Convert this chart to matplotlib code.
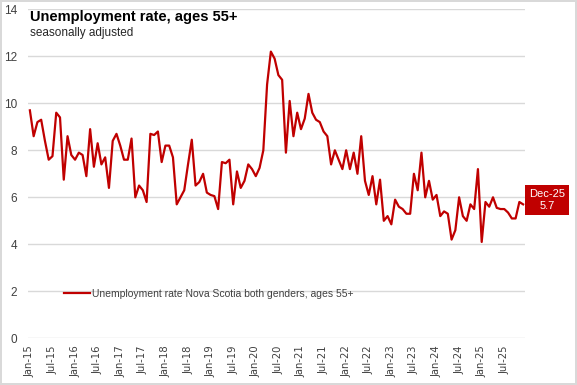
import matplotlib
matplotlib.use("Agg")
import matplotlib.pyplot as plt
import numpy as np
import pandas as pd
from matplotlib import font_manager

plt.rcParams["font.family"] = ["Liberation Sans", "DejaVu Sans"]

# monthly values, Jan-15 .. Dec-25
rate_2015 = [9.7, 8.6, 9.2, 9.3, 8.4, 7.6, 7.75, 9.6, 9.4, 6.75, 8.6, 7.8]
rate_2016 = [7.6, 7.9, 7.8, 6.9, 8.9, 7.3, 8.3, 7.4, 7.7, 6.4, 8.4, 8.7]
rate_2017 = [8.2, 7.6, 7.6, 8.5, 6.0, 6.5, 6.3, 5.8, 8.7, 8.65, 8.8, 7.5]
rate_2018 = [8.2, 8.2, 7.7, 5.7, 6.0, 6.3, 7.4, 8.45, 6.5, 6.65, 7.0, 6.2]
rate_2019 = [6.1, 6.05, 5.5, 7.5, 7.45, 7.6, 5.7, 7.1, 6.4, 6.7, 7.4, 7.2]
rate_2020 = [6.9, 7.25, 8.0, 10.8, 12.2, 11.9, 11.2, 11.0, 7.9, 10.1, 8.6, 9.6]
rate_2021 = [8.9, 9.35, 10.4, 9.6, 9.3, 9.2, 8.8, 8.6, 7.4, 8.0, 7.6, 7.2]
rate_2022 = [8.0, 7.2, 7.9, 7.0, 8.6, 6.7, 6.1, 6.9, 5.7, 6.75, 5.0, 5.2]
rate_2023 = [4.85, 5.9, 5.6, 5.5, 5.3, 5.3, 7.0, 6.3, 7.9, 6.0, 6.7, 5.9]
rate_2024 = [6.1, 5.2, 5.4, 5.3, 4.2, 4.6, 6.0, 5.2, 5.0, 5.7, 5.5, 7.2]
rate_2025 = [4.1, 5.8, 5.6, 6.0, 5.55, 5.5, 5.5, 5.35, 5.1, 5.1, 5.8, 5.7]

rates = (rate_2015 + rate_2016 + rate_2017 + rate_2018 + rate_2019 + rate_2020
         + rate_2021 + rate_2022 + rate_2023 + rate_2024 + rate_2025)
months = pd.date_range("2015-01-01", periods=len(rates), freq="MS")
month_labels = [m.strftime("%b-%y") for m in months]

series_name = "Unemployment rate Nova Scotia both genders, ages 55+"
RED = "#C00000"
GRID = "#D9D9D9"
TXT = "#404040"

# narrow face for the rotated month labels, if one is around
narrow = font_manager.FontProperties(family="DejaVu Sans", stretch="condensed", size=8)
if "Condensed" not in font_manager.findfont(narrow, fallback_to_default=False):
    narrow = font_manager.FontProperties(family="Liberation Sans", size=7)

fig = plt.figure(figsize=(5.77, 3.85), dpi=100)
fig.patch.set_edgecolor(GRID)
fig.patch.set_linewidth(1.5)
ax = fig.add_axes([28 / 577, 1 - 338.3 / 385, 497 / 577, 329 / 385])

x = np.arange(len(rates))
ax.plot(x, rates, color=RED, lw=1.6, label=series_name, solid_joinstyle="round")

ax.set_xlim(-0.5, len(rates) - 0.5)
ax.set_ylim(0, 14)
ax.set_yticks(np.arange(0, 15, 2))
ax.yaxis.grid(True, color=GRID, lw=1)
ax.set_axisbelow(True)
for s in ax.spines.values():
    s.set_visible(False)
ax.tick_params(axis="both", length=0, colors=TXT)
ax.tick_params(axis="y", pad=8, labelsize=8.5)

tick_pos = x[::6]
ax.set_xticks(tick_pos)
ax.set_xticklabels([month_labels[i] for i in tick_pos], rotation=90,
                   fontproperties=narrow)
ax.tick_params(axis="x", pad=5)

fig.text(30 / 577, 1 - 17 / 385, "Unemployment rate, ages 55+", fontsize=10.5,
         fontweight="bold", va="center", ha="left", color="black")
fig.text(30 / 577, 1 - 33 / 385, "seasonally adjusted", fontsize=8.5,
         va="center", ha="left", color="#262626")

leg = ax.legend(loc="upper left", bbox_to_anchor=(0.064, 0.163), frameon=False,
                fontsize=7.5, handlelength=2.5, handletextpad=0.15, borderaxespad=0)
for t in leg.get_texts():
    t.set_color(TXT)

last = len(rates) - 1
ax.annotate(f"{month_labels[last]}\n{rates[last]}", xy=(last, rates[last]),
            xytext=(24, 4), textcoords="offset pixels", ha="center", va="center",
            color="white", fontsize=8, linespacing=1.25, annotation_clip=False,
            bbox=dict(boxstyle="square,pad=0.35", fc=RED, ec="none"))

fig.savefig("out.png", dpi=100, edgecolor=fig.get_edgecolor())
